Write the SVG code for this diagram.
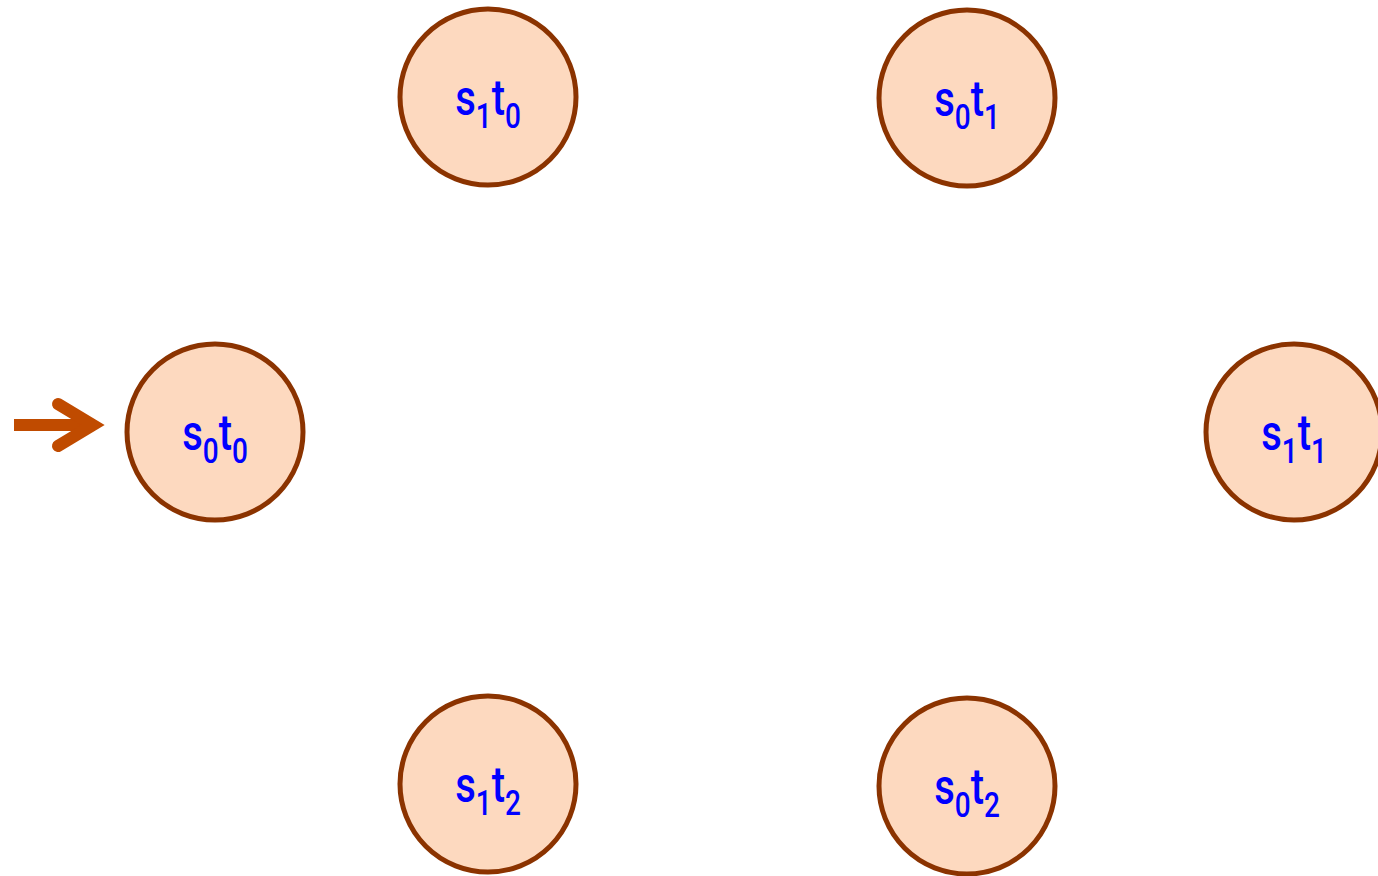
<svg xmlns="http://www.w3.org/2000/svg" width="1378" height="876" viewBox="0 0 1378 876">
<style>
.st{fill:#FDD9BF;stroke:#8B3300;stroke-width:5}
.lb{font-family:Roboto,"Liberation Sans",sans-serif;font-size:50px;font-weight:500;fill:#0000FF;text-anchor:middle}
.sb{font-size:35px}
.ar{stroke:#C04B00;stroke-width:12;fill:none}
</style>
<rect width="1378" height="876" fill="#FFFFFF"/>
<g id="connectors">
<line class="ar" x1="14" y1="425" x2="90" y2="425"/>
<polyline class="ar" points="58,404 93,425 58,446" stroke-linecap="round" stroke-linejoin="miter"/>
</g>
<g id="s0t0"><circle class="st" cx="215" cy="432" r="88"/><text class="lb" transform="translate(215,450) scale(0.8,1)">s<tspan class="sb" dy="13">0</tspan><tspan dy="-13">t</tspan><tspan class="sb" dy="13">0</tspan></text></g>
<g id="s1t0"><circle class="st" cx="488" cy="97" r="88"/><text class="lb" transform="translate(488,115) scale(0.8,1)">s<tspan class="sb" dy="13">1</tspan><tspan dy="-13">t</tspan><tspan class="sb" dy="13">0</tspan></text></g>
<g id="s0t1"><circle class="st" cx="967" cy="98" r="88"/><text class="lb" transform="translate(967,116) scale(0.8,1)">s<tspan class="sb" dy="13">0</tspan><tspan dy="-13">t</tspan><tspan class="sb" dy="13">1</tspan></text></g>
<g id="s1t1"><circle class="st" cx="1294" cy="432" r="88"/><text class="lb" transform="translate(1294,450) scale(0.8,1)">s<tspan class="sb" dy="13">1</tspan><tspan dy="-13">t</tspan><tspan class="sb" dy="13">1</tspan></text></g>
<g id="s1t2"><circle class="st" cx="488" cy="784" r="88"/><text class="lb" transform="translate(488,802) scale(0.8,1)">s<tspan class="sb" dy="13">1</tspan><tspan dy="-13">t</tspan><tspan class="sb" dy="13">2</tspan></text></g>
<g id="s0t2"><circle class="st" cx="967" cy="786" r="88"/><text class="lb" transform="translate(967,804) scale(0.8,1)">s<tspan class="sb" dy="13">0</tspan><tspan dy="-13">t</tspan><tspan class="sb" dy="13">2</tspan></text></g>
</svg>
